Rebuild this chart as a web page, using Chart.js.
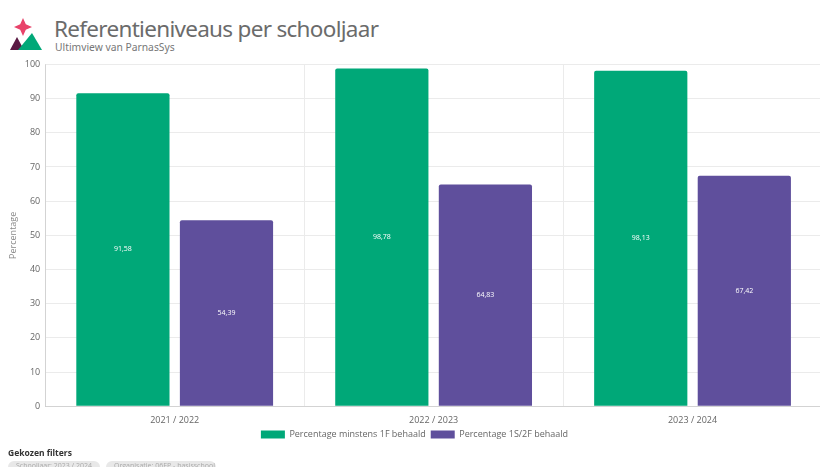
<!DOCTYPE html>
<html>
<head>
<meta charset="utf-8">
<script src="https://cdn.jsdelivr.net/npm/chart.js@4/dist/chart.umd.min.js"></script>
<style>
  body { margin: 0; width: 820px; height: 467px; overflow: hidden; background: #fff; font-family: "Open Sans", sans-serif; }
  #logo { position: absolute; left: 6px; top: 17px; }
  #title { position: absolute; left: 54px; top: 13px; font-size: 22.5px; color: #6b6b6b; font-family: "Noto Sans", sans-serif; letter-spacing: -0.7px; }
  #sub { position: absolute; left: 55px; top: 40px; font-size: 10.3px; color: #777; font-family: "Noto Sans", sans-serif; }
  #wrap { position: absolute; left: 0; top: 54px; width: 822px; height: 395px; }
  #filters { position: absolute; left: 8px; top: 447px; font-size: 8.5px; font-weight: bold; color: #333; font-family: "Noto Sans", sans-serif; }
  .chip { position: absolute; top: 461px; height: 12px; border-radius: 6px; background: #e8e8e8; font-size: 7px; color: #aaa; padding: 0 8px; line-height: 10px; white-space: nowrap; }
</style>
</head>
<body>
<svg id="logo" width="38" height="34" viewBox="0 0 38 34">
  <path d="M17 1 L19.8 7.2 L26 10 L19.8 12.8 L17 19 L14.2 12.8 L8 10 L14.2 7.2 Z" fill="#e8436a"/>
  <path d="M4 33 L11 20 L18 33 Z" fill="#5a1a43"/>
  <path d="M12 33 L26 16 L36 33 Z" fill="#00a878"/>
</svg>
<div id="title">Referentieniveaus per schooljaar</div>
<div id="sub">Ultimview van ParnasSys</div>
<div id="wrap"><canvas id="viz"></canvas></div>
<div id="filters">Gekozen filters</div>
<div class="chip" style="left:8px;width:76px;">Schooljaar: 2023 / 2024</div>
<div class="chip" style="left:106px;width:94px;">Organisatie: 06EP - basisschool</div>
<script>
var labels = ['2021 / 2022', '2022 / 2023', '2023 / 2024'];
var minstens1F = [91.58, 98.78, 98.13];
var niveau1S2F = [54.39, 64.83, 67.42];

var barLabels = {
  id: 'barLabels',
  afterDatasetsDraw: function (chart) {
    var ctx = chart.ctx;
    ctx.save();
    ctx.fillStyle = '#ffffff';
    ctx.font = '7px "Open Sans", sans-serif';
    ctx.textAlign = 'center';
    ctx.textBaseline = 'middle';
    chart.data.datasets.forEach(function (ds, i) {
      chart.getDatasetMeta(i).data.forEach(function (bar, j) {
        var txt = ds.data[j].toFixed(2).replace('.', ',');
        ctx.fillText(txt, bar.x, (bar.y + bar.base) / 2);
      });
    });
    ctx.restore();
  }
};

var context = document.getElementById('viz').getContext('2d');
var chart = new Chart(context, {
  type: 'bar',
  data: {
    labels: labels,
    datasets: [
      {
        label: 'Percentage minstens 1F behaald',
        backgroundColor: '#00a878',
        data: minstens1F,
        borderRadius: 2,
        barPercentage: 0.9,
        categoryPercentage: 0.8,
      },
      {
        label: 'Percentage 1S/2F behaald',
        backgroundColor: '#5f4f9c',
        data: niveau1S2F,
        borderRadius: 2,
        barPercentage: 0.9,
        categoryPercentage: 0.8,
      },
    ],
  },
  options: {
    responsive: true,
    maintainAspectRatio: false,
    animation: false,
    layout: { padding: { top: 2, left: 7, right: 0, bottom: 0 } },
    plugins: {
      legend: {
        position: 'bottom',
        labels: { boxWidth: 24, boxHeight: 8, color: '#666', font: { size: 9, family: 'Open Sans' }, padding: 5 },
      },
      tooltip: { enabled: false },
    },
    scales: {
      x: {
        grid: { color: '#ebebeb', offset: true, drawTicks: false },
        ticks: { color: '#666', font: { size: 9, family: 'Open Sans' }, padding: 9 },
        afterFit: function (scale) { scale.height -= 10; },
      },
      y: {
        min: 0,
        max: 100,
        ticks: { stepSize: 10, color: '#666', font: { size: 9, family: 'Open Sans' }, padding: 5 },
        grid: { color: '#ebebeb', drawTicks: false },
        title: { display: true, text: 'Percentage', color: '#888', font: { size: 9, family: 'Open Sans' }, padding: 1 },
      },
    },
  },
  plugins: [barLabels],
});
</script>
</body>
</html>
